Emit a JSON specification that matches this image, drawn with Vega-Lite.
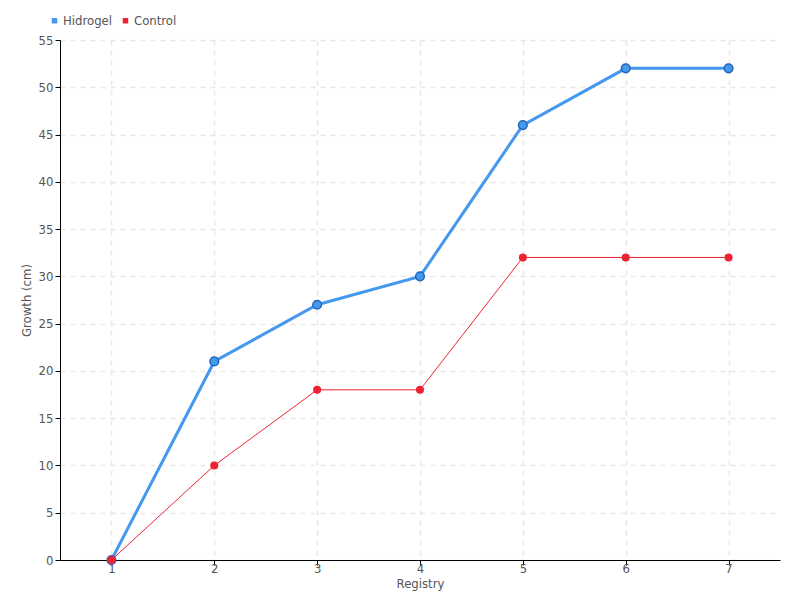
{
  "$schema": "https://vega.github.io/schema/vega-lite/v6.json",
  "width": 720,
  "height": 520,
  "autosize": {"type": "none"},
  "padding": {"left": 60, "top": 40, "right": 20, "bottom": 40},
  "background": "white",
  "config": {
    "view": {"stroke": null},
    "font": "DejaVu Sans Condensed",
    "axis": {
      "labelFont": "DejaVu Sans Condensed",
      "titleFont": "DejaVu Sans Condensed",
      "labelColor": "#555555",
      "titleColor": "#555555",
      "labelFontSize": 13,
      "titleFontSize": 13,
      "titleFontWeight": "normal",
      "domainColor": "#000000",
      "tickColor": "#000000",
      "gridColor": "#e8e8e8",
      "gridDash": [5, 5],
      "gridWidth": 1.5
    }
  },
  "data": {
    "values": [
      {"registry": 1, "series": "Hidrogel", "growth": 0},
      {"registry": 2, "series": "Hidrogel", "growth": 21},
      {"registry": 3, "series": "Hidrogel", "growth": 27},
      {"registry": 4, "series": "Hidrogel", "growth": 30},
      {"registry": 5, "series": "Hidrogel", "growth": 46},
      {"registry": 6, "series": "Hidrogel", "growth": 52},
      {"registry": 7, "series": "Hidrogel", "growth": 52},
      {"registry": 1, "series": "Control", "growth": 0},
      {"registry": 2, "series": "Control", "growth": 10},
      {"registry": 3, "series": "Control", "growth": 18},
      {"registry": 4, "series": "Control", "growth": 18},
      {"registry": 5, "series": "Control", "growth": 32},
      {"registry": 6, "series": "Control", "growth": 32},
      {"registry": 7, "series": "Control", "growth": 32}
    ]
  },
  "encoding": {
    "x": {
      "field": "registry",
      "type": "quantitative",
      "scale": {"domain": [0.5, 7.5], "nice": false, "zero": false},
      "axis": {"values": [1, 2, 3, 4, 5, 6, 7], "title": "Registry", "tickSize": 5, "labelPadding": -3, "titlePadding": 2, "grid": true}
    },
    "y": {
      "field": "growth",
      "type": "quantitative",
      "scale": {"domain": [0, 55], "nice": false},
      "axis": {"values": [0,5,10,15,20,25,30,35,40,45,50,55], "title": "Growth (cm)", "tickSize": 5, "labelPadding": 2, "titlePadding": 5, "grid": true}
    },
    "color": {
      "field": "series",
      "type": "nominal",
      "scale": {"domain": ["Hidrogel", "Control"], "range": ["#4499ee", "#ee2233"]},
      "legend": {
        "title": null,
        "orient": "none",
        "legendX": -12,
        "legendY": -26,
        "direction": "horizontal",
        "symbolType": "square",
        "symbolSize": 30,
        "labelFontSize": 13,
        "labelColor": "#555555",
        "labelFont": "DejaVu Sans Condensed",
        "columnPadding": 6,
        "labelOffset": 2,
        "symbolStrokeWidth": 0
      }
    }
  },
  "layer": [
    {
      "transform": [{"filter": "datum.series === 'Hidrogel'"}],
      "mark": {"type": "line", "strokeWidth": 3},
      "encoding": {}
    },
    {
      "transform": [{"filter": "datum.series === 'Hidrogel'"}],
      "mark": {"type": "point", "filled": true, "size": 75, "opacity": 1, "stroke": "#2266bb", "strokeWidth": 1.5},
      "encoding": {}
    },
    {
      "transform": [{"filter": "datum.series === 'Control'"}],
      "mark": {"type": "line", "strokeWidth": 1, "color": "#f04455"},
      "encoding": {}
    },
    {
      "transform": [{"filter": "datum.series === 'Control'"}],
      "mark": {"type": "point", "filled": true, "size": 65, "opacity": 1},
      "encoding": {}
    }
  ]
}
